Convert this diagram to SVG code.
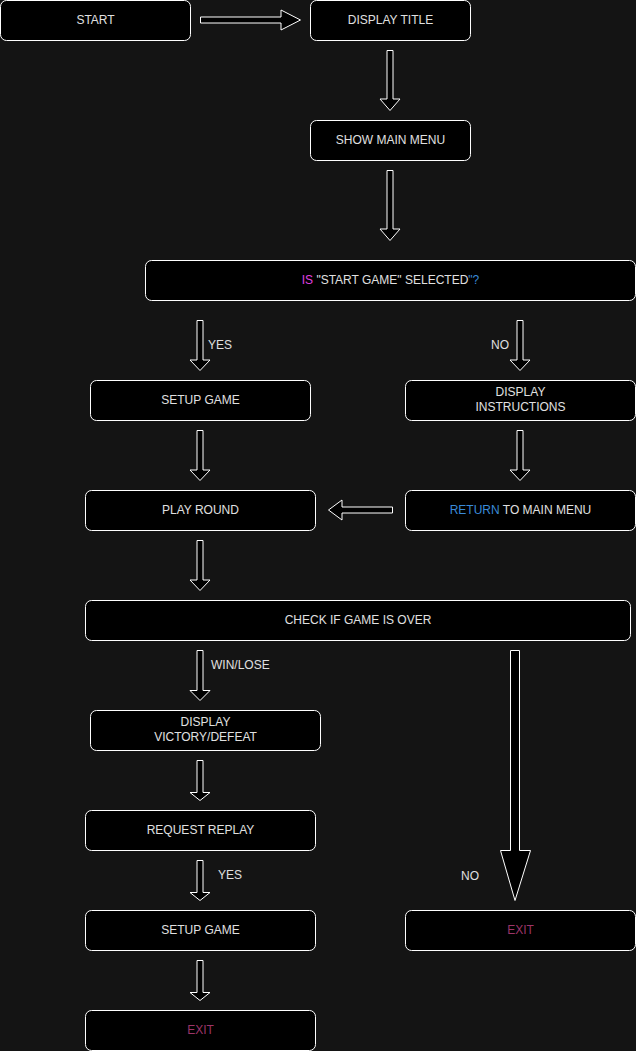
<svg xmlns="http://www.w3.org/2000/svg" width="636" height="1051" viewBox="0 0 636 1051">
<style>
.bg{fill:#141414}
.box{fill:#000;stroke:#fff;stroke-width:1}
.arr{fill:#000;stroke:#fff;stroke-width:1;stroke-linejoin:miter}
text{font-family:"Liberation Sans",Arial,Helvetica,sans-serif;font-size:12px;fill:#e0e0e0}
.c{text-anchor:middle}
.exit{fill:#9c3468}
.mag{fill:#e040e0}
.blue{fill:#3a8ad8}
</style>
<rect class="bg" x="0" y="0" width="636" height="1051"/>
<g id="connectors">
<path class="arr" d="M200.5 17 H281 V10 L300.5 20 L281 30 V23 H200.5 Z"/>
<path class="arr" d="M387 50.5 H393 V99 H400 L390 110.5 L380 99 H387 Z"/>
<path class="arr" d="M387 170.5 H393 V229 H400 L390 240.5 L380 229 H387 Z"/>
<path class="arr" d="M197 320.5 H203 V360 H210 L200 370.5 L190 360 H197 Z"/>
<path class="arr" d="M517 320.5 H523 V360 H530 L520 370.5 L510 360 H517 Z"/>
<path class="arr" d="M197 430.5 H203 V470 H210 L200 480.5 L190 470 H197 Z"/>
<path class="arr" d="M517 430.5 H523 V470 H530 L520 480.5 L510 470 H517 Z"/>
<path class="arr" d="M392.5 507 H342 V500 L328.5 510 L342 520 V513 H392.5 Z"/>
<path class="arr" d="M197 540.5 H203 V580 H210 L200 590.5 L190 580 H197 Z"/>
<path class="arr" d="M197 650.5 H203 V690.5 H210 L200 700.5 L190 690.5 H197 Z"/>
<path class="arr" d="M510.5 650.5 H519.5 V850.5 H530.5 L515 900.5 L500.5 850.5 H510.5 Z"/>
<path class="arr" d="M197 760.5 H203 V792.5 H210 L200 800.5 L190 792.5 H197 Z"/>
<path class="arr" d="M197 860.5 H203 V892.5 H210 L200 900.5 L190 892.5 H197 Z"/>
<path class="arr" d="M197 960.5 H203 V992.5 H210 L200 1000.5 L190 992.5 H197 Z"/>
<text x="208" y="348.5">YES</text>
<text x="491" y="348.5">NO</text>
<text x="211" y="668.5">WIN/LOSE</text>
<text x="461" y="879.5">NO</text>
<text x="218" y="878.5">YES</text>
</g>
<g id="start"><rect class="box" x="0.5" y="0.5" width="190" height="40" rx="6"/><text class="c" x="95.5" y="24">START</text></g>
<g id="display-title"><rect class="box" x="310.5" y="0.5" width="160" height="40" rx="6"/><text class="c" x="390.5" y="24">DISPLAY TITLE</text></g>
<g id="show-main-menu"><rect class="box" x="310.5" y="120.5" width="160" height="40" rx="6"/><text class="c" x="390.5" y="144">SHOW MAIN MENU</text></g>
<g id="is-start-selected"><rect class="box" x="145.5" y="260.5" width="490" height="40" rx="6"/><text class="c" x="390.5" y="284"><tspan class="mag">IS</tspan> "START GAME" SELECTED<tspan class="blue">"?</tspan></text></g>
<g id="setup-game-1"><rect class="box" x="90.5" y="380.5" width="220" height="40" rx="6"/><text class="c" x="200.5" y="404">SETUP GAME</text></g>
<g id="display-instructions"><rect class="box" x="405.5" y="380.5" width="230" height="40" rx="6"/><text class="c" x="520.5" y="396">DISPLAY</text><text class="c" x="520.5" y="411">INSTRUCTIONS</text></g>
<g id="play-round"><rect class="box" x="85.5" y="490.5" width="230" height="40" rx="6"/><text class="c" x="200.5" y="514">PLAY ROUND</text></g>
<g id="return-main-menu"><rect class="box" x="405.5" y="490.5" width="230" height="40" rx="6"/><text class="c" x="520.5" y="514"><tspan class="blue">RETURN</tspan> TO MAIN MENU</text></g>
<g id="check-game-over"><rect class="box" x="85.5" y="600.5" width="545" height="40" rx="6"/><text class="c" x="358" y="624">CHECK IF GAME IS OVER</text></g>
<g id="display-victory"><rect class="box" x="90.5" y="710.5" width="230" height="40" rx="6"/><text class="c" x="205.5" y="726">DISPLAY</text><text class="c" x="205.5" y="741">VICTORY/DEFEAT</text></g>
<g id="request-replay"><rect class="box" x="85.5" y="810.5" width="230" height="40" rx="6"/><text class="c" x="200.5" y="834">REQUEST REPLAY</text></g>
<g id="setup-game-2"><rect class="box" x="85.5" y="910.5" width="230" height="40" rx="6"/><text class="c" x="200.5" y="934">SETUP GAME</text></g>
<g id="exit-right"><rect class="box" x="405.5" y="910.5" width="230" height="40" rx="6"/><text class="c exit" x="520.5" y="934">EXIT</text></g>
<g id="exit-bottom"><rect class="box" x="85.5" y="1010.5" width="230" height="40" rx="6"/><text class="c exit" x="200.5" y="1034">EXIT</text></g>
</svg>
